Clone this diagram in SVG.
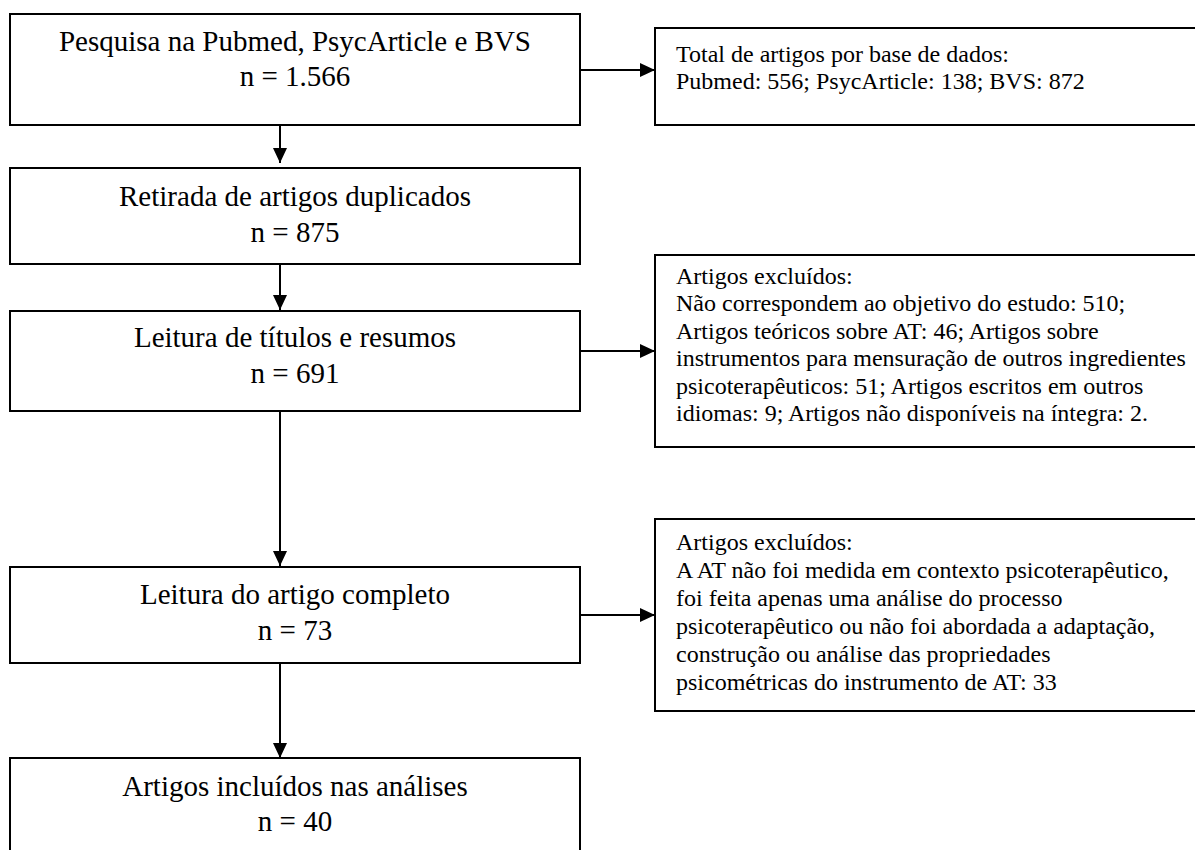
<svg xmlns="http://www.w3.org/2000/svg" width="1195" height="850" viewBox="0 0 1195 850">
<defs>
<style>
.box{fill:#fff;stroke:#000;stroke-width:2}
.main{font-family:"Liberation Serif","Times New Roman",serif;font-size:29px;fill:#000;text-anchor:middle}
.side{font-family:"Liberation Serif","Times New Roman",serif;font-size:24px;fill:#000}
.conn{stroke:#000;stroke-width:2;fill:none;marker-end:url(#arr)}
</style>
<marker id="arr" markerUnits="userSpaceOnUse" markerWidth="16" markerHeight="14" refX="15" refY="7" orient="auto">
<path d="M0,0 L15,7 L0,14 z" fill="#000"/>
</marker>
</defs>
<rect width="1195" height="850" fill="#fff"/>
<g id="connectors">
<line class="conn" x1="280" y1="125" x2="280" y2="163"/>
<line class="conn" x1="280" y1="264" x2="280" y2="310"/>
<line class="conn" x1="280" y1="411" x2="280" y2="566"/>
<line class="conn" x1="280" y1="663" x2="280" y2="758"/>
<line class="conn" x1="580" y1="70" x2="655" y2="70"/>
<line class="conn" x1="580" y1="351" x2="655" y2="351"/>
<line class="conn" x1="580" y1="615" x2="655" y2="615"/>
</g>
<g id="n1">
<rect class="box" x="10" y="14" width="570" height="111"/>
<text class="main" x="295" y="50.5">Pesquisa na Pubmed, PsycArticle e BVS</text>
<text class="main" x="295" y="85.5">n = 1.566</text>
</g>
<g id="n2">
<rect class="box" x="10" y="168" width="570" height="96"/>
<text class="main" x="295" y="206">Retirada de artigos duplicados</text>
<text class="main" x="295" y="241.5">n = 875</text>
</g>
<g id="n3">
<rect class="box" x="10" y="311" width="570" height="100"/>
<text class="main" x="295" y="346.5">Leitura de títulos e resumos</text>
<text class="main" x="295" y="382.5">n = 691</text>
</g>
<g id="n4">
<rect class="box" x="10" y="567" width="570" height="96"/>
<text class="main" x="295" y="604">Leitura do artigo completo</text>
<text class="main" x="295" y="639.5">n = 73</text>
</g>
<g id="n5">
<rect class="box" x="10" y="758" width="570" height="100"/>
<text class="main" x="295" y="796">Artigos incluídos nas análises</text>
<text class="main" x="295" y="831">n = 40</text>
</g>
<g id="r1">
<rect class="box" x="655" y="28" width="550" height="97"/>
<text class="side" x="676" y="61.5">Total de artigos por base de dados:</text>
<text class="side" x="676" y="88.5">Pubmed: 556; PsycArticle: 138; BVS: 872</text>
</g>
<g id="r2">
<rect class="box" x="655" y="255" width="550" height="192"/>
<text class="side" x="676" y="284">Artigos excluídos:</text>
<text class="side" x="676" y="311.4">Não correspondem ao objetivo do estudo: 510;</text>
<text class="side" x="676" y="338.8">Artigos teóricos sobre AT: 46; Artigos sobre</text>
<text class="side" x="676" y="366.2">instrumentos para mensuração de outros ingredientes</text>
<text class="side" x="676" y="393.6">psicoterapêuticos: 51; Artigos escritos em outros</text>
<text class="side" x="676" y="421">idiomas: 9; Artigos não disponíveis na íntegra: 2.</text>
</g>
<g id="r3">
<rect class="box" x="655" y="519" width="550" height="192"/>
<text class="side" x="676" y="550">Artigos excluídos:</text>
<text class="side" x="676" y="578">A AT não foi medida em contexto psicoterapêutico,</text>
<text class="side" x="676" y="606">foi feita apenas uma análise do processo</text>
<text class="side" x="676" y="633.5">psicoterapêutico ou não foi abordada a adaptação,</text>
<text class="side" x="676" y="661.5">construção ou análise das propriedades</text>
<text class="side" x="676" y="689.5">psicométricas do instrumento de AT: 33</text>
</g>
</svg>
